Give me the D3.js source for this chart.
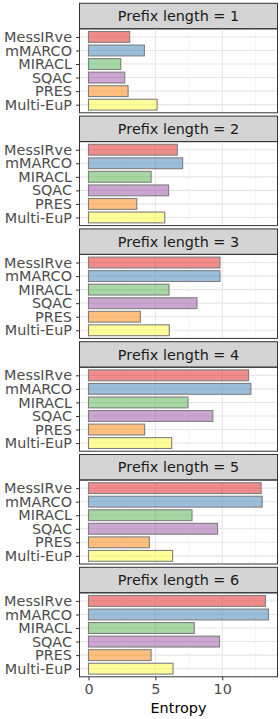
<!DOCTYPE html>
<html lang="en">
<head>
    <meta charset="UTF-8">
    <title>Entropy by prefix length</title>
    <script src="https://cdnjs.cloudflare.com/ajax/libs/d3/7.8.5/d3.min.js"></script>
    <style>
        body {
            margin: 0;
            background: #fff;
            font-family: "DejaVu Sans", sans-serif;
        }
        svg { display: block; }
    </style>
</head>
<body>
    <svg id="svg" width="280" height="719"></svg>

    <script>
        // data
        const datasets = ["MessIRve", "mMARCO", "MIRACL", "SQAC", "PRES", "Multi-EuP"];
        const prefixLengths = [1, 2, 3, 4, 5, 6];
        const entropy = [
            [3.08, 4.18, 2.41, 2.71, 2.96, 5.13],
            [6.64, 7.04, 4.68, 5.99, 3.61, 5.70],
            [9.83, 9.83, 6.02, 8.11, 3.88, 6.04],
            [11.97, 12.14, 7.44, 9.30, 4.20, 6.22],
            [12.91, 12.99, 7.74, 9.65, 4.55, 6.29],
            [13.23, 13.46, 7.91, 9.80, 4.68, 6.32]
        ];
        const xTicks = [0, 5, 10];
        const colors = ["#E41A1C", "#377EB8", "#4DAF4A", "#984EA3", "#FF7F00", "#FFFF33"];

        const svg = d3.select("#svg");
        const left = 79.5, right = 277.5;
        const firstTop = 3.3, step = 112.8;
        const stripH = 25.5, plotH = 84;

        const maxVal = d3.max(entropy.flat());
        const x = d3.scaleLinear()
            .domain([-0.05 * maxVal, maxVal * 1.05])
            .range([left, right]);

        const minorTicks = [2.5, 7.5, 12.5];

        prefixLengths.forEach((p, i) => {
            const top = firstTop + i * step;
            const pTop = top + stripH;
            const g = svg.append("g");

            // strip
            g.append("rect")
                .attr("x", left).attr("y", top)
                .attr("width", right - left).attr("height", stripH)
                .attr("fill", "#d4d4d4")
                .attr("stroke", "#333").attr("stroke-width", 1);
            g.append("text")
                .attr("x", (left + right) / 2).attr("y", top + stripH / 2)
                .attr("dy", "0.36em")
                .attr("text-anchor", "middle")
                .attr("font-size", 14.4)
                .attr("fill", "#1a1a1a")
                .text(`Prefix length = ${p}`);

            // discrete y scale with ggplot-like padding
            const y = d3.scalePoint()
                .domain(datasets)
                .range([pTop, pTop + plotH])
                .padding(0.6);
            const bw = y.step() * 0.8;

            // grid
            g.selectAll(".minor")
                .data(minorTicks)
                .join("line")
                .attr("x1", d => x(d)).attr("x2", d => x(d))
                .attr("y1", pTop).attr("y2", pTop + plotH)
                .attr("stroke", "#f0f0f0").attr("stroke-width", 0.6);
            g.selectAll(".major")
                .data(xTicks)
                .join("line")
                .attr("x1", d => x(d)).attr("x2", d => x(d))
                .attr("y1", pTop).attr("y2", pTop + plotH)
                .attr("stroke", "#e6e6e6").attr("stroke-width", 1.1);
            g.selectAll(".hgrid")
                .data(datasets)
                .join("line")
                .attr("x1", left).attr("x2", right)
                .attr("y1", d => y(d)).attr("y2", d => y(d))
                .attr("stroke", "#e6e6e6").attr("stroke-width", 1.1);

            // bars
            g.selectAll(".bar")
                .data(datasets.map((d, j) => ({ name: d, value: entropy[i][j], color: colors[j] })))
                .join("rect")
                .attr("x", x(0))
                .attr("y", d => y(d.name) - bw / 2)
                .attr("width", d => x(d.value) - x(0))
                .attr("height", bw)
                .attr("fill", d => d.color)
                .attr("fill-opacity", 0.5)
                .attr("stroke", "#7f7f7f")
                .attr("stroke-width", 1.1);

            // panel border
            g.append("rect")
                .attr("x", left).attr("y", pTop)
                .attr("width", right - left).attr("height", plotH)
                .attr("fill", "none")
                .attr("stroke", "#333").attr("stroke-width", 1);

            // y axis
            const yAxis = g.append("g")
                .attr("transform", `translate(${left},0)`)
                .call(d3.axisLeft(y).tickSize(3.5).tickPadding(4));
            yAxis.select(".domain").remove();
            yAxis.selectAll("line").attr("stroke", "#333");
            yAxis.selectAll("text")
                .attr("font-family", "DejaVu Sans")
                .attr("font-size", 14.4)
                .attr("fill", "#4d4d4d");

            // x axis on last panel
            if (i === prefixLengths.length - 1) {
                const xAxis = g.append("g")
                    .attr("transform", `translate(0,${pTop + plotH})`)
                    .call(d3.axisBottom(x).tickValues(xTicks).tickSize(3.5).tickPadding(3));
                xAxis.select(".domain").remove();
                xAxis.selectAll("line").attr("stroke", "#333");
                xAxis.selectAll("text")
                    .attr("font-family", "DejaVu Sans")
                    .attr("font-size", 14.4)
                    .attr("fill", "#4d4d4d");
            }
        });

        svg.append("text")
            .attr("x", (left + right) / 2)
            .attr("y", 713)
            .attr("text-anchor", "middle")
            .attr("font-size", 14.4)
            .attr("fill", "#000")
            .text("Entropy");
    </script>
</body>
</html>
